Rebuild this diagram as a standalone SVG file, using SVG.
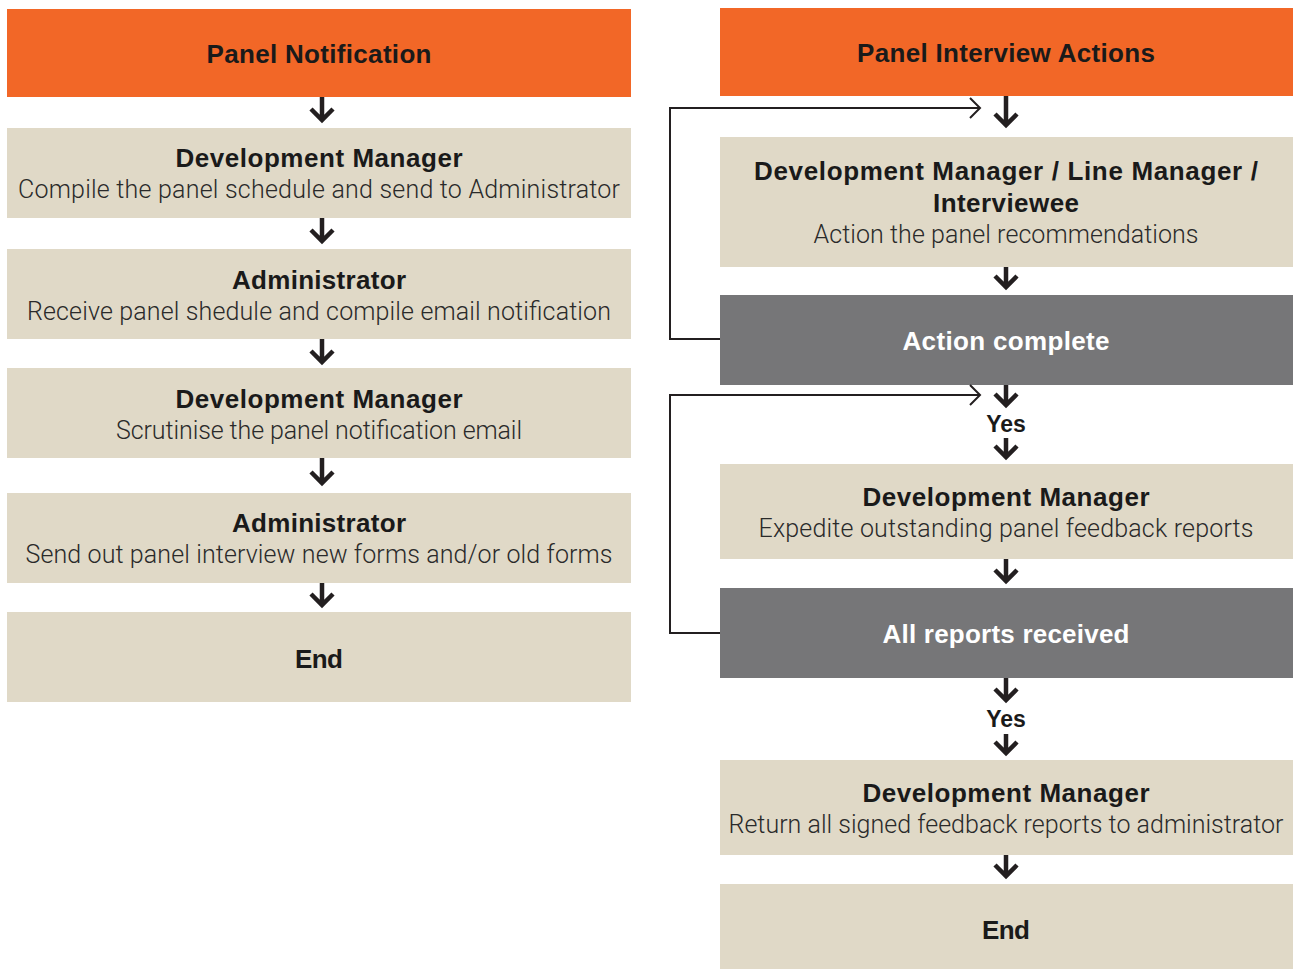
<svg xmlns="http://www.w3.org/2000/svg" width="1293" height="969" viewBox="0 0 1293 969">
<defs>
<style>
.hdr{fill:#F26727}
.box{fill:#E0D9C7}
.dec{fill:#767678}
.t{font-family:"Liberation Sans",Arial,sans-serif;font-weight:bold;font-size:26px;fill:#1a1a1a;text-anchor:middle}
.y{font-family:"Liberation Sans",Arial,sans-serif;font-weight:bold;font-size:23px;fill:#1a1a1a;text-anchor:middle}
.tw{font-family:"Liberation Sans",Arial,sans-serif;font-weight:bold;font-size:26px;fill:#ffffff;text-anchor:middle}
.b{font-family:Roboto,"Liberation Sans",Arial,sans-serif;font-weight:300;font-size:25px;fill:#2a2a2a;text-anchor:middle}
.arr{fill:none;stroke:#231f20;stroke-width:4.5}
.loop{fill:none;stroke:#231f20;stroke-width:2}
</style>
</defs>
<rect width="1293" height="969" fill="#ffffff"/>

<g id="left-header"><rect class="hdr" x="7" y="9" width="624" height="88"/><text class="t" x="319" y="63" textLength="225">Panel Notification</text></g>
<g id="left-1"><rect class="box" x="7" y="128" width="624" height="90"/><text class="t" x="319" y="167" textLength="287">Development Manager</text><text class="b" x="319" y="198" textLength="602">Compile the panel schedule and send to Administrator</text></g>
<g id="left-2"><rect class="box" x="7" y="249" width="624" height="90"/><text class="t" x="319" y="289" textLength="174">Administrator</text><text class="b" x="319" y="320" textLength="584">Receive panel shedule and compile email notification</text></g>
<g id="left-3"><rect class="box" x="7" y="368" width="624" height="90"/><text class="t" x="319" y="408" textLength="287">Development Manager</text><text class="b" x="319" y="439" textLength="406">Scrutinise the panel notification email</text></g>
<g id="left-4"><rect class="box" x="7" y="493" width="624" height="90"/><text class="t" x="319" y="532" textLength="174">Administrator</text><text class="b" x="319" y="563" textLength="587">Send out panel interview new forms and/or old forms</text></g>
<g id="left-end"><rect class="box" x="7" y="612" width="624" height="90"/><text class="t" x="319" y="668" textLength="48">End</text></g>

<g id="right-header"><rect class="hdr" x="720" y="8" width="573" height="88"/><text class="t" x="1006" y="62" textLength="298">Panel Interview Actions</text></g>
<g id="right-1"><rect class="box" x="720" y="137" width="573" height="130"/><text class="t" x="1006" y="180" textLength="504">Development Manager / Line Manager /</text><text class="t" x="1006" y="212" textLength="146">Interviewee</text><text class="b" x="1006" y="243" textLength="385">Action the panel recommendations</text></g>
<g id="right-dec1"><rect class="dec" x="720" y="295" width="573" height="90"/><text class="tw" x="1006" y="350" textLength="207">Action complete</text></g>
<g id="right-2"><rect class="box" x="720" y="464" width="573" height="95"/><text class="t" x="1006" y="506" textLength="287">Development Manager</text><text class="b" x="1006" y="537" textLength="495">Expedite outstanding panel feedback reports</text></g>
<g id="right-dec2"><rect class="dec" x="720" y="588" width="573" height="90"/><text class="tw" x="1006" y="643" textLength="247">All reports received</text></g>
<g id="right-3"><rect class="box" x="720" y="760" width="573" height="95"/><text class="t" x="1006" y="802" textLength="287">Development Manager</text><text class="b" x="1006" y="833" textLength="555">Return all signed feedback reports to administrator</text></g>
<g id="right-end"><rect class="box" x="720" y="884" width="573" height="85"/><text class="t" x="1006" y="939" textLength="48">End</text></g>

<g id="connectors">
<path class="arr" d="M322,97 V120 M311,109 L322,120 L333,109"/>
<path class="arr" d="M322,218 V241 M311,230 L322,241 L333,230"/>
<path class="arr" d="M322,339 V362 M311,351 L322,362 L333,351"/>
<path class="arr" d="M322,458 V483 M311,472 L322,483 L333,472"/>
<path class="arr" d="M322,583 V605 M311,594 L322,605 L333,594"/>

<path class="arr" d="M1006,96 V125 M995,114 L1006,125 L1017,114"/>
<path class="arr" d="M1006,267 V287 M995,276 L1006,287 L1017,276"/>
<path class="arr" d="M1006,385 V405 M995,394 L1006,405 L1017,394"/>
<text class="y" x="1006" y="432">Yes</text>
<path class="arr" d="M1006,438 V457 M995,446 L1006,457 L1017,446"/>
<path class="arr" d="M1006,559 V581 M995,570 L1006,581 L1017,570"/>
<path class="arr" d="M1006,678 V700 M995,689 L1006,700 L1017,689"/>
<text class="y" x="1006" y="727">Yes</text>
<path class="arr" d="M1006,734 V753 M995,742 L1006,753 L1017,742"/>
<path class="arr" d="M1006,855 V876 M995,865 L1006,876 L1017,865"/>

<path class="loop" d="M720,339 H670 V108 H980 M970,98 L980,108 L970,118"/>
<path class="loop" d="M720,633 H670 V395 H980 M970,385 L980,395 L970,405"/>
</g>
</svg>
